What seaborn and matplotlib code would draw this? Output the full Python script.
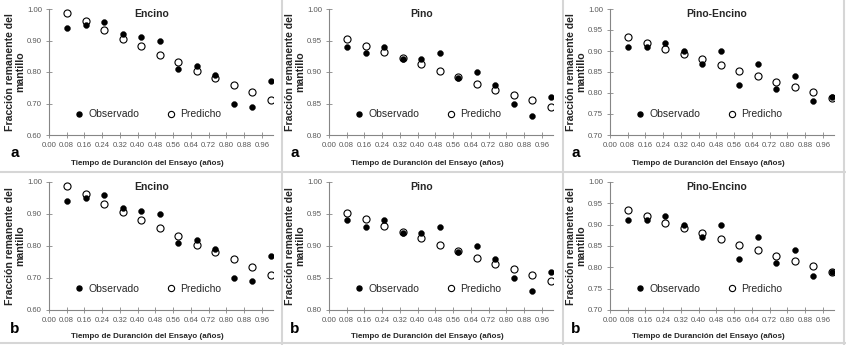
"""
Fraccion remanente del mantillo: observado vs predicho
"""

# Libraries
import numpy as np
import pandas as pd
import seaborn as sns
import matplotlib.pyplot as plt
from matplotlib.lines import Line2D

# Seaborn
sns.set_theme(style="ticks")
plt.rcParams['font.family'] = ['Liberation Sans Narrow', 'Liberation Sans', 'DejaVu Sans']

# ---------------------------------
# Data
# ---------------------------------
# Tiempo (años)
tiempo = [0.083, 0.167, 0.25, 0.333, 0.417, 0.5,
          0.583, 0.667, 0.75, 0.833, 0.917, 1.0]

# Encino
encino_obs = [0.94, 0.95, 0.96, 0.92, 0.91, 0.90,
              0.81, 0.82, 0.79, 0.70, 0.69, 0.77]
encino_pred = [0.988, 0.962, 0.932, 0.906, 0.881, 0.855,
               0.831, 0.803, 0.780, 0.758, 0.735, 0.710]

# Pino
pino_obs = [0.94, 0.93, 0.94, 0.92, 0.92, 0.93,
            0.89, 0.90, 0.88, 0.85, 0.83, 0.86]
pino_pred = [0.952, 0.942, 0.931, 0.922, 0.912, 0.902,
             0.892, 0.881, 0.872, 0.864, 0.855, 0.845]

# Pino-Encino
mixto_obs = [0.91, 0.91, 0.92, 0.90, 0.87, 0.90,
             0.82, 0.87, 0.81, 0.84, 0.78, 0.79]
mixto_pred = [0.934, 0.920, 0.905, 0.892, 0.880, 0.866,
              0.853, 0.840, 0.827, 0.815, 0.803, 0.789]

titles = ['Encino', 'Pino', 'Pino-Encino']
observed = [encino_obs, pino_obs, mixto_obs]
predicted = [encino_pred, pino_pred, mixto_pred]
ylims = [(0.60, 1.00), (0.80, 1.00), (0.70, 1.00)]
ysteps = [0.10, 0.05, 0.05]
xticks = [0.00, 0.08, 0.16, 0.24, 0.32, 0.40, 0.48,
          0.56, 0.64, 0.72, 0.80, 0.88, 0.96]
letters = ['a', 'b']

# ---------------------------------
# Layout constants (pixels)
# ---------------------------------
W, H = 846, 345
lefts = [49, 329, 610]
ax_w = 224
rows = [(9, 135), (182, 310)]
title_x = [0.46, 0.415, 0.478]
ylabel = 'Fracción remanente del\nmantillo'

gray = '#868686'
tick_color = '#595959'
text_color = '#262626'

# ---------------------------------
# Plot
# ---------------------------------
fig = plt.figure(figsize=(W / 100, H / 100), dpi=100)

for r, (top, bottom) in enumerate(rows):
    for c in range(3):
        rect = [lefts[c] / W, 1 - bottom / H, ax_w / W, (bottom - top) / H]
        ax = fig.add_axes(rect)

        data = pd.DataFrame({
            'tiempo': tiempo,
            'Observado': observed[c],
            'Predicho': predicted[c]})

        # Predicho (open circles)
        sns.scatterplot(data=data, x='tiempo', y='Predicho', ax=ax,
                        marker='o', s=26, facecolor='white',
                        edgecolor='black', linewidth=0.8, zorder=3)
        # Observado (filled)
        sns.scatterplot(data=data, x='tiempo', y='Observado', ax=ax,
                        marker='o', s=18, color='black',
                        edgecolor='black', linewidth=0.3, zorder=4)

        # Axes config
        lo, hi = ylims[c]
        ax.set_xlim(0, 1.01)
        ax.set_ylim(lo, hi)
        ax.set_xticks(xticks)
        ax.set_xticklabels(['%.2f' % t for t in xticks])
        yt = np.round(np.arange(lo, hi + 1e-6, ysteps[c]), 2)
        ax.set_yticks(yt)
        ax.set_yticklabels(['%.2f' % v for v in yt])
        ax.tick_params(direction='inout', length=4, width=0.6,
                       color=gray, labelcolor=tick_color,
                       labelsize=5.6, pad=3)
        sns.despine(ax=ax)
        for s in ['left', 'bottom']:
            ax.spines[s].set_color(gray)
            ax.spines[s].set_linewidth(0.8)

        # Labels
        ax.set_xlabel('Tiempo de Duranción del Ensayo (años)',
                      fontsize=5.8, fontweight='bold', color=text_color)
        ax.xaxis.set_label_coords(0.44, -0.2 if r == 0 else -0.18)
        ax.set_ylabel(ylabel, fontsize=7.6, fontweight='bold',
                      color=text_color, linespacing=1.0)
        ax.yaxis.set_label_coords(-0.105, 0.5)

        # Title
        ax.text(title_x[c], 0.96, titles[c], transform=ax.transAxes,
                ha='center', va='center', fontsize=7.5,
                fontweight='bold', color=text_color)

        # Panel letter
        ax.text(-0.152, -0.145, letters[r], transform=ax.transAxes,
                ha='center', va='center', fontsize=11,
                fontweight='bold', color='black')

        # Legend
        handles = [
            Line2D([], [], ls='', marker='o', ms=3.6, color='black'),
            Line2D([], [], ls='', marker='o', ms=4.5, mfc='white',
                   mec='black', mew=0.8)]
        ax.legend(handles, ['Observado', 'Predicho'], ncol=2,
                  frameon=False, loc='center left',
                  bbox_to_anchor=(0.07, 0.165), fontsize=7.5,
                  handlelength=1.0, handletextpad=0.4,
                  columnspacing=2.5, labelcolor=text_color)

# Panel borders
for x in [282, 563, 844]:
    fig.add_artist(Line2D([x / W, x / W], [0, 1], color='#d6d6d6', lw=1.5))
for y in [172, 343]:
    fig.add_artist(Line2D([0, 1], [1 - y / H, 1 - y / H],
                          color='#d6d6d6', lw=1.5))

fig.savefig('out.png', dpi=100)
